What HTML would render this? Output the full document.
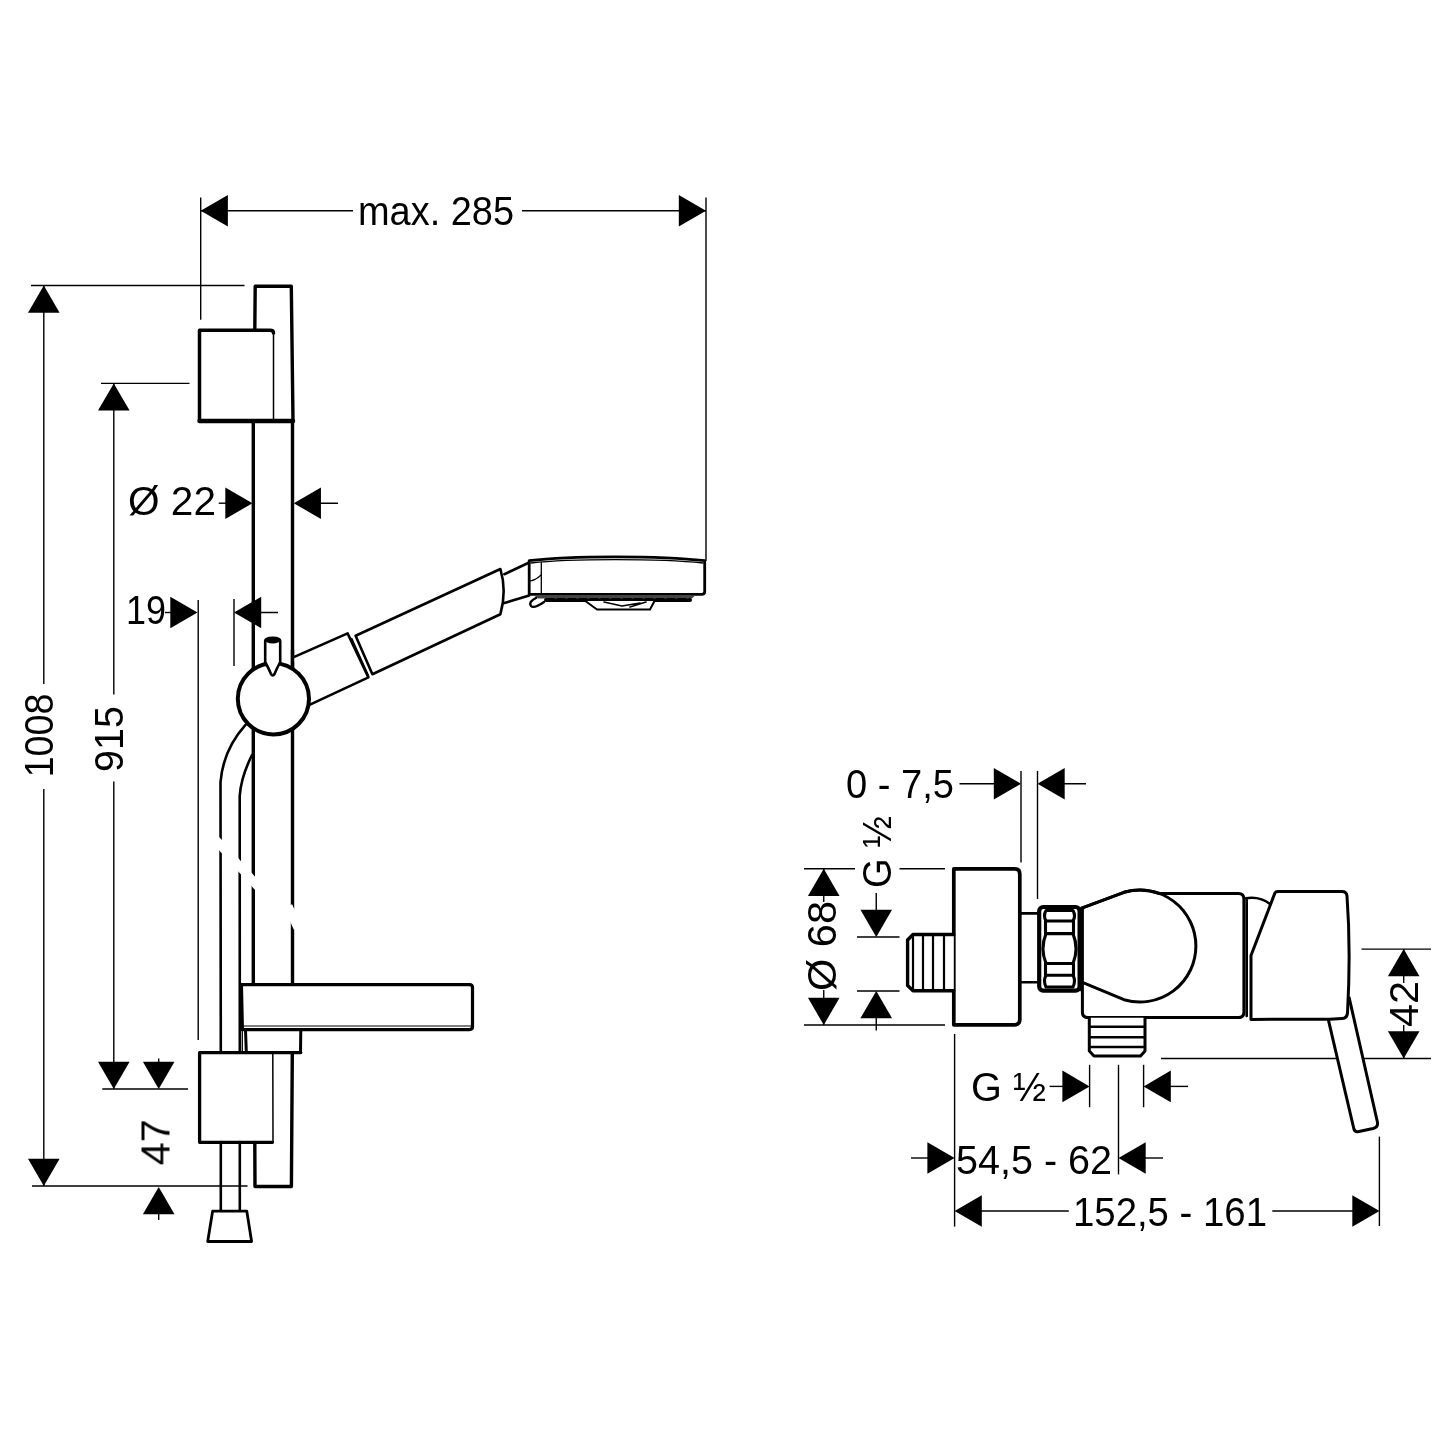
<!DOCTYPE html>
<html><head><meta charset="utf-8"><title>Drawing</title>
<style>html,body{margin:0;padding:0;background:#fff;}svg{display:block;}</style>
</head><body>
<svg width="1437" height="1437" viewBox="0 0 1437 1437">
<rect width="1437" height="1437" fill="#fff"/>
<g stroke="#000" stroke-width="1.4" stroke-linecap="butt"><line x1="200.70" y1="210.75" x2="353.00" y2="210.75"/><line x1="522.00" y1="210.75" x2="706.00" y2="210.75"/><line x1="200.70" y1="197.50" x2="200.70" y2="319.70"/><line x1="706.00" y1="197.50" x2="706.00" y2="561.00"/><line x1="31.00" y1="285.50" x2="244.50" y2="285.50"/><line x1="32.00" y1="1186.00" x2="247.50" y2="1186.00"/><line x1="43.80" y1="285.50" x2="43.80" y2="684.00"/><line x1="43.80" y1="789.00" x2="43.80" y2="1186.00"/><line x1="101.00" y1="383.40" x2="189.50" y2="383.40"/><line x1="102.30" y1="1089.00" x2="188.00" y2="1089.00"/><line x1="113.80" y1="383.40" x2="113.80" y2="694.50"/><line x1="113.80" y1="781.40" x2="113.80" y2="1089.00"/><line x1="158.70" y1="1058.40" x2="158.70" y2="1070.00"/><line x1="158.70" y1="1205.00" x2="158.70" y2="1220.00"/><line x1="218.75" y1="503.20" x2="230.00" y2="503.20"/><line x1="300.00" y1="503.20" x2="338.00" y2="503.20"/><line x1="165.00" y1="612.50" x2="175.00" y2="612.50"/><line x1="240.00" y1="612.50" x2="278.00" y2="612.50"/><line x1="198.20" y1="600.00" x2="198.20" y2="1040.00"/><line x1="234.00" y1="599.00" x2="234.00" y2="666.00"/><line x1="959.50" y1="783.75" x2="1000.00" y2="783.75"/><line x1="1021.00" y1="771.00" x2="1021.00" y2="862.50"/><line x1="1037.50" y1="771.00" x2="1037.50" y2="899.00"/><line x1="1040.00" y1="783.75" x2="1086.00" y2="783.75"/><line x1="804.00" y1="868.75" x2="855.00" y2="868.75"/><line x1="899.50" y1="868.75" x2="945.00" y2="868.75"/><line x1="804.00" y1="1025.00" x2="945.00" y2="1025.00"/><line x1="823.75" y1="868.75" x2="823.75" y2="902.00"/><line x1="823.75" y1="990.00" x2="823.75" y2="1025.00"/><line x1="876.25" y1="893.00" x2="876.25" y2="915.00"/><line x1="857.00" y1="937.00" x2="899.50" y2="937.00"/><line x1="857.00" y1="991.00" x2="899.50" y2="991.00"/><line x1="876.25" y1="1010.00" x2="876.25" y2="1030.50"/><line x1="954.60" y1="1034.00" x2="954.60" y2="1226.60"/><line x1="1049.60" y1="1086.40" x2="1070.00" y2="1086.40"/><line x1="1089.60" y1="1064.80" x2="1089.60" y2="1107.20"/><line x1="1118.50" y1="1064.80" x2="1118.50" y2="1174.40"/><line x1="1143.60" y1="1064.80" x2="1143.60" y2="1107.20"/><line x1="1160.00" y1="1086.40" x2="1188.00" y2="1086.40"/><line x1="911.00" y1="1158.00" x2="935.00" y2="1158.00"/><line x1="1140.00" y1="1158.00" x2="1163.00" y2="1158.00"/><line x1="970.00" y1="1211.00" x2="1068.80" y2="1211.00"/><line x1="1272.30" y1="1211.00" x2="1360.00" y2="1211.00"/><line x1="1379.40" y1="1136.60" x2="1379.40" y2="1226.00"/><line x1="1361.50" y1="949.10" x2="1431.00" y2="949.10"/><line x1="1161.00" y1="1058.50" x2="1431.00" y2="1058.50"/><line x1="1403.70" y1="949.10" x2="1403.70" y2="983.00"/><line x1="1403.70" y1="1025.00" x2="1403.70" y2="1058.50"/></g>

<g fill="white" stroke="#000" stroke-width="3.4" stroke-linejoin="round" stroke-linecap="round">
  <!-- rail top above holder -->
  <path fill="none" d="M254.8,330 L255.2,286.2 L291.3,286.2 L293,421"/>
  <!-- rail middle -->
  <path fill="none" d="M253.3,421 L253.3,985"/>
  <path fill="none" d="M292.5,421 L292.5,985"/>
  <!-- upper holder -->
  <rect x="199.5" y="330.3" width="74" height="90" stroke="none"/>
  <path fill="none" d="M199.5,420 L199.5,330.3 L270,330.3 Q273.5,330.3 273.5,333" stroke-width="3.5"/>
  <path fill="none" d="M199.5,421 L293,421" stroke-width="4.5"/>
  <line x1="273.5" y1="332" x2="273.5" y2="420" stroke-width="1.5"/>
  <!-- hose -->
  <path fill="none" stroke-width="2.6" d="M245.5,724.9 Q223,750 220.5,782.4 L220.8,1052"/>
  <path fill="none" stroke-width="2.6" d="M252,755 Q241,777 239.7,796 L239.8,1052"/>
  <!-- arm segment 1 -->
  <path stroke-width="2.6" d="M293.2,657.4 L347.6,633.4 L368.4,677.4 L310,704.6"/>
  <!-- handle -->
  <path stroke-width="2.6" d="M355.6,635.8 L500.4,569 Q507,591 500.4,614.2 L372.4,674.2 Z"/>
  <line x1="351.8" y1="638.5" x2="368.6" y2="676" stroke-width="1.5"/>
  <!-- neck -->
  <path fill="none" stroke-width="2.6" d="M504.4,574.2 L529.2,562.5 M504.4,603 L529.2,595.4"/>
  <line x1="292.5" y1="650" x2="292.5" y2="690" stroke-width="3.4"/>
  <!-- ball -->
  <circle cx="273.4" cy="698.8" r="35.6" stroke-width="4"/>
  <!-- pin -->
  <path stroke-width="2.6" d="M265.2,641 Q265.2,637.8 272.7,637.8 Q280.2,637.8 280.2,641 L280.2,662 Q277,668 274.5,674 Q272.7,677 271,674 Q268.5,668 265.2,662 Z"/>
  <ellipse cx="272.7" cy="640.5" rx="7.5" ry="3" fill="#000" stroke="none"/>
  <!-- shower head -->
  <path stroke-width="2.8" d="M529.2,560.6 C570,555.5 660,555.5 704.7,560.6 L704.7,591.5 Q704.7,594.4 701.5,594.4 L529.2,594.4 Z"/>
  <path fill="none" stroke-width="1.3" d="M541.3,562 L541.3,594 M531,563 C570,558.5 660,558.5 703,563"/>
  <path fill="none" stroke-width="1.2" d="M530,581 Q536,580 541,575"/>
  <!-- nozzle band -->
  <path fill="#444" stroke="none" d="M534,595.5 L695,595.5 L692,598.5 L538,598.5 Z"/>
  <path fill="none" stroke="#000" stroke-width="4" stroke-dasharray="8,3" d="M546,600 L690,600"/>
  <path stroke-width="2" d="M584,600 L655,600 L650,609.5 L597,609.5 Z"/>
  <path fill="none" stroke-width="1.6" d="M604,602 L622,606 L640,603 M630,607 L646,602"/>
  <path fill="none" stroke-width="2.4" d="M536,598 Q528,602 531,606 Q534,609 544,602"/>
  <!-- soap dish -->
  <path stroke-width="3.2" d="M241.4,984.6 L469.5,984.6 Q472.5,984.6 472.5,987.6 L472.5,1026.6 Q472.5,1029.6 469.5,1029.6 L242.4,1029.6 Z"/>
  <line x1="244" y1="1026" x2="472" y2="1026" stroke-width="1.2"/>
  <!-- block under soap dish -->
  <path fill="none" stroke-width="3" d="M245.5,1030 L246.3,1052.5 M300.8,1030 L300.5,1052.5"/>
  <line x1="242.3" y1="1030" x2="242.3" y2="1052" stroke-width="1.3"/>
  <!-- lower holder -->
  <rect x="199.6" y="1052.6" width="73" height="89.7" stroke="none"/>
  <path fill="none" stroke-width="3.3" d="M272.5,1142.3 L199.6,1142.3 L199.6,1052.6 L300.8,1052.6"/>
  <line x1="272.8" y1="1054" x2="273" y2="1142" stroke-width="1.5"/>
  <!-- rail bottom -->
  <path fill="none" stroke-width="3.4" d="M292.3,1054 L291.4,1186.5 L255,1186.5 L254.8,1142.5"/>
  <!-- hose bottom -->
  <path fill="none" stroke-width="2.6" d="M220.8,1142 L220.8,1211 M239.8,1142 L239.8,1211"/>
  <path stroke-width="2.8" d="M212.6,1211.2 L246.8,1211.2 L251.6,1241.5 L207.7,1241.5 Z"/>
</g>
<!-- break gaps -->
<g stroke="#fff" stroke-width="9" fill="none">
  <line x1="214" y1="838" x2="262" y2="891"/>
  <line x1="288" y1="906" x2="298" y2="928"/>
</g>


<g fill="white" stroke="#000" stroke-width="3" stroke-linejoin="round" stroke-linecap="round">
  <!-- escutcheon -->
  <path stroke-width="3.7" d="M953.8,868.8 L1014.5,868.8 Q1019.8,868.8 1019.8,874 L1019.8,1019.5 Q1019.8,1024.8 1014.5,1024.8 L953.8,1024.8 Z"/>
  <!-- nipple -->
  <path stroke-width="3.4" d="M953.8,934.5 L913,934.5 L907.6,940 L907.6,985.5 L913,990.8 L953.8,990.8"/>
  <path fill="none" stroke-width="2.2" d="M913,936 L913,989 M923,936 L923,989 M933,936 L933,989 M944,936 L944,989"/>
  <!-- stem -->
  <path fill="none" stroke-width="2.6" d="M1019.8,913.4 L1039.2,913.4 M1019.8,982.3 L1039.2,982.3"/>
  <!-- body -->
  <path stroke-width="3" d="M1082.4,907.8 L1124,892.3 A56,56 0 0 1 1159.5,893.5 L1238.5,893.5 Q1243.9,893.5 1243.9,899 L1243.9,1012 Q1243.9,1017.6 1238.5,1017.6 L1088,1017.6 Q1082.4,1017.6 1082.4,1012 Z"/>
  <!-- dome -->
  <path fill="none" stroke-width="3" d="M1082.4,907.8 L1124,892.3 A56,56 0 1 1 1124,999.7 L1082.4,982.3"/>
  <!-- nut -->
  <rect x="1039.2" y="907" width="40.4" height="83.6" rx="4" stroke-width="4.2"/>
  <path fill="none" stroke-width="3" d="M1081.5,908 L1081.5,990"/>
  <path fill="none" stroke-width="3.1" d="M1046,910.5 L1073,910.5 Q1076,915.5 1073,921 L1046,921 Q1043,915.5 1046,910.5 Z"/>
  <path fill="none" stroke-width="3.1" d="M1046,975.3 L1073,975.3 Q1076,981 1073,987 L1046,987 Q1043,981 1046,975.3 Z"/>
  <path fill="none" stroke-width="3.1" d="M1045.5,933.6 L1073.5,933.6 M1045.5,963.5 L1073.5,963.5 M1046,933.6 Q1040,948.5 1046,963.5 M1073,933.6 Q1079,948.5 1073,963.5"/>
  <path fill="none" stroke-width="3.1" d="M1045.5,921 L1045.5,933.6 M1073.5,921 L1073.5,933.6 M1045.5,963.5 L1045.5,975.3 M1073.5,963.5 L1073.5,975.3"/>
  <!-- outlet nipple -->
  <path stroke-width="3" d="M1089.3,1017.8 L1089.3,1051 L1094,1056 L1140.5,1056 L1145,1051 L1145,1017.8"/>
  <path fill="none" stroke-width="2.6" d="M1090,1026.8 L1144,1026.8 M1090,1037.3 L1144,1037.3 M1090,1047 L1144,1047"/>
  <!-- spacer -->
  <path fill="none" stroke-width="2.6" d="M1246.7,899 L1246.7,1016 M1245.8,898.2 Q1260,896 1270,904"/>
  <!-- lever -->
  <path stroke-width="3" d="M1328.5,1020.4 L1353.9,1129 Q1355,1132.5 1359,1131.5 L1373,1128.5 Q1378.5,1127 1377.4,1122 L1349.2,997.8"/>
  <!-- handle block -->
  <path stroke-width="3" d="M1251,1019.4 L1251,955.5 L1274.9,893 Q1275.5,891.6 1278,891.6 L1342,891.6 Q1346.5,891.6 1347,896 Q1351,950 1347.5,1013 Q1347,1018.5 1342,1018.5 L1330,1019.2 Z"/>
</g>

<g fill="#000"><polygon points="200.70,210.75 227.90,194.95 227.90,226.55"/><polygon points="706.00,210.75 678.80,194.95 678.80,226.55"/><polygon points="43.80,285.50 28.00,312.70 59.60,312.70"/><polygon points="43.80,1186.00 28.00,1158.80 59.60,1158.80"/><polygon points="113.80,383.40 98.00,410.60 129.60,410.60"/><polygon points="113.80,1089.00 98.00,1061.80 129.60,1061.80"/><polygon points="158.70,1089.00 142.90,1061.80 174.50,1061.80"/><polygon points="158.70,1187.00 142.90,1214.20 174.50,1214.20"/><polygon points="252.50,503.20 225.30,487.40 225.30,519.00"/><polygon points="293.75,503.20 320.95,487.40 320.95,519.00"/><polygon points="197.50,612.50 170.30,596.70 170.30,628.30"/><polygon points="234.00,612.50 261.20,596.70 261.20,628.30"/><polygon points="1021.00,783.75 993.80,767.95 993.80,799.55"/><polygon points="1037.50,783.75 1064.70,767.95 1064.70,799.55"/><polygon points="823.75,868.75 807.95,895.95 839.55,895.95"/><polygon points="823.75,1025.00 807.95,997.80 839.55,997.80"/><polygon points="876.25,937.00 860.45,909.80 892.05,909.80"/><polygon points="876.25,991.00 860.45,1018.20 892.05,1018.20"/><polygon points="1089.60,1086.40 1062.40,1070.60 1062.40,1102.20"/><polygon points="1143.60,1086.40 1170.80,1070.60 1170.80,1102.20"/><polygon points="954.60,1158.00 927.40,1142.20 927.40,1173.80"/><polygon points="1118.50,1158.00 1145.70,1142.20 1145.70,1173.80"/><polygon points="954.60,1211.00 981.80,1195.20 981.80,1226.80"/><polygon points="1379.50,1211.00 1352.30,1195.20 1352.30,1226.80"/><polygon points="1403.70,949.10 1387.90,976.30 1419.50,976.30"/><polygon points="1403.70,1058.50 1387.90,1031.30 1419.50,1031.30"/></g>
<g fill="#000" style="opacity:0.999" font-family="'Liberation Sans', sans-serif"><text x="358.00" y="224.50" font-size="40" textLength="156.0" lengthAdjust="spacingAndGlyphs">max. 285</text><text x="0" y="0" font-size="40" textLength="84.0" lengthAdjust="spacingAndGlyphs" transform="translate(52.50,735.50) rotate(-90)" text-anchor="middle">1008</text><text x="0" y="0" font-size="40" textLength="66.0" lengthAdjust="spacingAndGlyphs" transform="translate(122.50,739.00) rotate(-90)" text-anchor="middle">915</text><text x="0" y="0" font-size="40" textLength="46.0" lengthAdjust="spacingAndGlyphs" transform="translate(169.50,1142.30) rotate(-90)" text-anchor="middle">47</text><text x="128.00" y="515.00" font-size="40" textLength="88.0" lengthAdjust="spacingAndGlyphs">Ø 22</text><text x="126.00" y="624.00" font-size="40" textLength="40.0" lengthAdjust="spacingAndGlyphs">19</text><text x="846.00" y="797.50" font-size="40" textLength="108.0" lengthAdjust="spacingAndGlyphs">0 - 7,5</text><text x="0" y="0" font-size="40" textLength="90.0" lengthAdjust="spacingAndGlyphs" transform="translate(836.00,946.00) rotate(-90)" text-anchor="middle">Ø 68</text><text x="0" y="0" font-size="40" textLength="72.0" lengthAdjust="spacingAndGlyphs" transform="translate(891.00,852.00) rotate(-90)" text-anchor="middle">G ½</text><text x="971.00" y="1101.30" font-size="40" textLength="75.0" lengthAdjust="spacingAndGlyphs">G ½</text><text x="956.00" y="1174.00" font-size="40" textLength="156.0" lengthAdjust="spacingAndGlyphs">54,5 - 62</text><text x="1073.00" y="1226.20" font-size="40" textLength="194.0" lengthAdjust="spacingAndGlyphs">152,5 - 161</text><text x="0" y="0" font-size="40" textLength="46.0" lengthAdjust="spacingAndGlyphs" transform="translate(1418.00,1004.00) rotate(-90)" text-anchor="middle">42</text></g>
</svg>
</body></html>
